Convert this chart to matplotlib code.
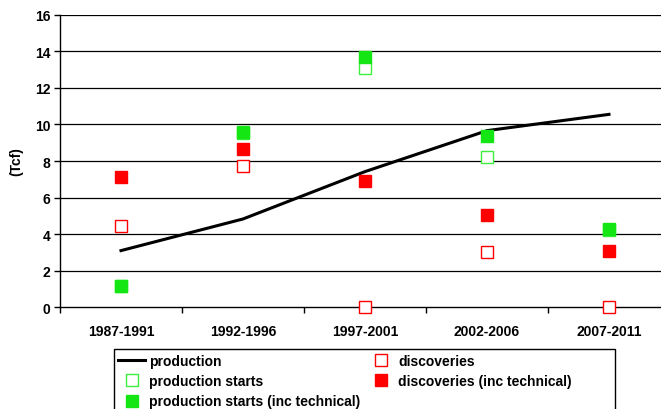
import matplotlib
matplotlib.use("Agg")
import matplotlib.pyplot as plt
from matplotlib.ticker import FixedLocator
from matplotlib.patches import Rectangle

categories = ["1987-1991", "1992-1996", "1997-2001", "2002-2006", "2007-2011"]
production = [3.1, 4.83, 7.42, 9.66, 10.55]
production_starts = [1.15, 9.55, 13.1, 8.2, 4.2]
production_starts_tech = [1.18, 9.6, 13.67, 9.35, 4.28]
discoveries = [4.45, 7.73, 0.0, 3.02, 0.0]
discoveries_tech = [7.1, 8.67, 6.89, 5.05, 3.1]
yticks = [0, 2, 4, 6, 8, 10, 12, 14, 16]

plt.rcParams['font.family'] = ['Liberation Sans', 'DejaVu Sans']
plt.rcParams['font.weight'] = 'bold'

fig = plt.figure(figsize=(6.61, 4.10), dpi=100)
W, H = 661, 410
left, right = 60, 670
top, bottom = 15.7, 308.3
ax = fig.add_axes([left / W, (H - bottom) / H, (right - left) / W, (bottom - top) / H])

x = list(range(len(categories)))
ms = 8
fs = 10
green = "#14e614"
green_e = "#3cf03c"
red = "#ff0000"

ax.plot(x, production, color="black", lw=2.2, label="production", zorder=3)
ax.plot(x, production_starts, ls="none", marker="s", ms=ms, mfc="white", mec=green_e,
        mew=1.0, label="production starts", zorder=4)
ax.plot(x, production_starts_tech, ls="none", marker="s", ms=ms, mfc=green, mec=green,
        mew=1.0, label="production starts (inc technical)", zorder=5)
ax.plot(x, discoveries, ls="none", marker="s", ms=ms, mfc="white", mec=red,
        mew=1.0, label="discoveries", zorder=4, clip_on=False)
ax.plot(x, discoveries_tech, ls="none", marker="s", ms=ms, mfc=red, mec=red,
        mew=1.0, label="discoveries (inc technical)", zorder=5)

ax.set_xlim(-0.5, len(categories) - 0.5)
ax.set_ylim(0, 16)
ax.set_yticks(yticks)
ax.set_yticklabels([str(v) for v in yticks], fontsize=fs, fontweight='bold')
ax.set_xticks(x)
ax.set_xticklabels(categories, fontsize=fs, fontweight='bold')
ax.tick_params(axis='x', which='major', length=0, pad=12)
ax.xaxis.set_minor_locator(FixedLocator([i - 0.5 for i in range(len(categories) + 1)]))
ax.tick_params(axis='x', which='minor', length=4, width=1, direction='out')
ax.tick_params(axis='y', length=4, width=1, direction='out', pad=3)

for v in yticks[1:]:
    ax.axhline(v, color="black", lw=0.9, zorder=1)

for s in ['top', 'right']:
    ax.spines[s].set_visible(False)
ax.spines['left'].set_linewidth(1)
ax.spines['bottom'].set_linewidth(1)

ax.set_ylabel("(Tcf)", fontsize=fs, fontweight='bold', labelpad=8)

handles, labels = ax.get_legend_handles_labels()
leg = fig.legend(handles, labels, loc='upper left', ncol=2,
                 bbox_to_anchor=(113.6 / W, (H - 350) / H),
                 frameon=False,
                 prop={'size': fs, 'weight': 'bold'},
                 handlelength=1.9, handletextpad=0.3, columnspacing=0.55,
                 labelspacing=0.45, borderpad=0.35, borderaxespad=0)

fig.patches.append(Rectangle((113.6 / W, -0.05), (615 - 113.6) / W, (H - 350) / H + 0.05,
                             transform=fig.transFigure, fill=False, edgecolor='black',
                             lw=1, zorder=10))

fig.savefig("out.png", dpi=100)
